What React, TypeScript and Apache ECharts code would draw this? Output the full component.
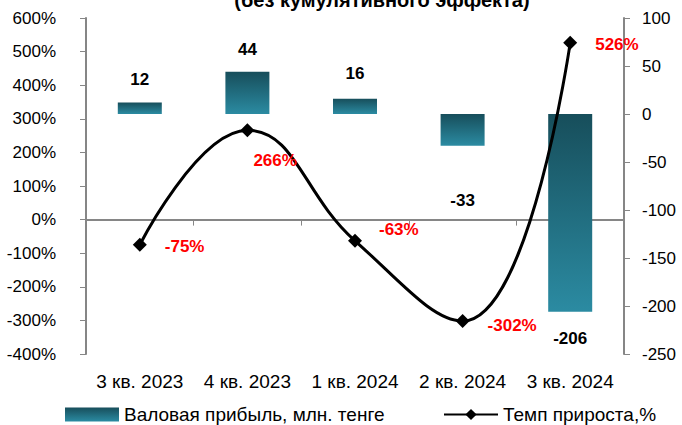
import React, { useEffect, useRef } from "react";
import * as echarts from "echarts";

const categories = ["3 кв. 2023", "4 кв. 2023", "1 кв. 2024", "2 кв. 2024", "3 кв. 2024"];
const grossProfit = [12, 44, 16, -33, -206];
const growthRate = [-75, 266, -63, -302, 526];
const leftTicks = { min: -400, max: 600, interval: 100 };
const rightTicks = { min: -250, max: 100, interval: 50 };
const titleText = "(без кумулятивного эффекта)";
const barName = "Валовая прибыль, млн. тенге";
const lineName = "Темп прироста,%";

const FONT = "'Liberation Sans', Arial, sans-serif";

export default function App() {
  const ref = useRef<HTMLDivElement>(null);
  useEffect(() => {
    document.body.style.margin = "0";
    const chart = echarts.init(ref.current!, null, { renderer: "svg" });
    const barLabelCfg = [
      { position: "top", distance: 14 },
      { position: "top", distance: 14 },
      { position: "top", distance: 17 },
      { position: "bottom", distance: 46 },
      { position: "bottom", distance: 18 },
    ];
    const lineLabelCfg = [
      { offset: [6, 2] },
      { offset: [-13, 30] },
      { offset: [5, -11] },
      { offset: [6, 4] },
      { offset: [6, 2] },
    ];
    const gradient = new echarts.graphic.LinearGradient(0, 0, 0, 1, [
      { offset: 0, color: "#174e5b" },
      { offset: 1, color: "#2b8ba2" },
    ]);
    const legendText = { fontFamily: FONT, fontSize: 19, color: "#000" };
    chart.setOption({
      animation: false,
      textStyle: { fontFamily: FONT },
      grid: { left: 86, right: 58, top: 18, bottom: 71, containLabel: false },
      graphic: [
        {
          type: "text",
          x: 382,
          y: 0,
          style: {
            text: titleText,
            align: "center",
            verticalAlign: "middle",
            font: `bold 20px ${FONT}`,
            fill: "#000",
          },
        },
      ],
      legend: [
        {
          left: 60,
          top: 400,
          itemWidth: 54,
          itemHeight: 14,
          textStyle: legendText,
          data: [{ name: barName, icon: "rect" }],
        },
        {
          left: 438,
          top: 400,
          itemWidth: 54,
          itemHeight: 14,
          textStyle: legendText,
          data: [{ name: lineName }],
        },
      ],
      xAxis: {
        type: "category",
        data: categories,
        boundaryGap: true,
        axisLine: { onZero: true, onZeroAxisIndex: 0, lineStyle: { color: "#868686", width: 2 } },
        axisTick: { show: true, alignWithLabel: false, length: 6, lineStyle: { color: "#868686", width: 1 } },
        axisLabel: {
          interval: 0,
          fontFamily: FONT,
          fontSize: 19,
          color: "#000",
          margin: 18,
        },
        position: "bottom",
      },
      yAxis: [
        {
          type: "value",
          min: leftTicks.min,
          max: leftTicks.max,
          interval: leftTicks.interval,
          axisLine: { show: true, lineStyle: { color: "#868686", width: 2 } },
          axisTick: { show: true, length: 6, lineStyle: { color: "#868686" } },
          splitLine: { show: false },
          axisLabel: { formatter: (v: number) => `${v}%`, fontFamily: FONT, fontSize: 17, color: "#000", margin: 30 },
        },
        {
          type: "value",
          min: rightTicks.min,
          max: rightTicks.max,
          interval: rightTicks.interval,
          position: "right",
          axisLine: { show: true, lineStyle: { color: "#868686", width: 2 } },
          axisTick: { show: true, length: 6, lineStyle: { color: "#868686" } },
          splitLine: { show: false },
          axisLabel: { fontFamily: FONT, fontSize: 17, color: "#000", margin: 18 },
        },
      ],
      series: [
        {
          name: barName,
          type: "bar",
          yAxisIndex: 1,
          barWidth: 44,
          itemStyle: { color: gradient },
          data: grossProfit.map((v, i) => ({
            value: v,
            label: {
              show: true,
              position: barLabelCfg[i].position,
              distance: barLabelCfg[i].distance,
              fontFamily: FONT,
              fontWeight: "bold",
              fontSize: 17,
              color: "#000",
            },
          })),
          z: 1,
        },
        {
          name: lineName,
          type: "line",
          yAxisIndex: 0,
          smooth: 0.45,
          symbol: "diamond",
          symbolSize: 14,
          lineStyle: { color: "#000", width: 3 },
          itemStyle: { color: "#000" },
          data: growthRate.map((v, i) => ({
            value: v,
            label: {
              show: true,
              position: "right",
              distance: 12,
              offset: lineLabelCfg[i].offset,
              formatter: `${v}%`,
              fontFamily: FONT,
              fontWeight: "bold",
              fontSize: 17,
              color: "#ff0000",
            },
          })),
          z: 3,
        },
      ],
    });
    return () => chart.dispose();
  }, []);
  return <div ref={ref} style={{ width: 682, height: 425, position: "absolute", left: 0, top: 0 }} />;
}
